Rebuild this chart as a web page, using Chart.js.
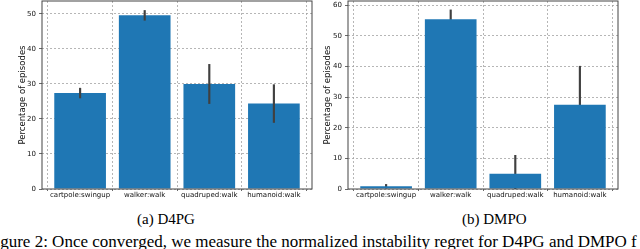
<!DOCTYPE html>
<html>
<head>
<meta charset="utf-8">
<script src="https://cdn.jsdelivr.net/npm/chart.js@4.4.0/dist/chart.umd.min.js"></script>
<style>
  html, body { margin: 0; padding: 0; background: #fff; }
  body { width: 640px; height: 249px; position: relative; overflow: hidden; }
  .panel { position: absolute; top: 0; width: 320px; height: 202px; }
  .cap { position: absolute; font-family: "Liberation Serif", "Times New Roman", serif; font-size: 15px; line-height: 15px; white-space: nowrap; color: #000; }
  .figcap { font-size: 17px; line-height: 17px; }
</style>
</head>
<body>
<div class="panel" style="left:0"><canvas id="d4pg"></canvas></div>
<div class="panel" style="left:320px"><canvas id="dmpo"></canvas></div>
<div class="cap" style="top:212px; left:137px">(a) D4PG</div>
<div class="cap" style="top:212px; left:462px">(b) DMPO</div>
<div class="cap figcap" style="top:233px; left:-14px">Figure 2: Once converged, we measure the normalized instability regret for D4PG and DMPO f</div>
<script>
// Data
const taskNames = ['cartpole:swingup', 'walker:walk', 'quadruped:walk', 'humanoid:walk']
const d4pgMean = [27.4, 49.6, 30.0, 24.4]
const d4pgErr = [1.4, 1.4, 5.6, 5.4]
const dmpoMean = [0.9, 55.4, 5.0, 27.5]
const dmpoErr = [0.6, 3.1, 6.0, 12.6]
const d4pgTicks = [0, 10, 20, 30, 40, 50]
const dmpoTicks = [0, 10, 20, 30, 40, 50, 60]

// box round the plot area, like matplotlib spines
const framePlugin = {
    id: 'frame',
    afterDatasetsDraw(chart) {
        const { ctx, chartArea: a } = chart
        ctx.save()
        ctx.strokeStyle = '#444'
        ctx.lineWidth = 1
        ctx.strokeRect(a.left, a.top, a.right - a.left, a.bottom - a.top)
        ctx.restore()
    }
}

function makeChart(id, means, errs, yMax, yTicks, yWidth, titlePad, padRight, errOnTop) {
    const gridStyle = { color: '#a4a4a4', lineWidth: 0.8, drawTicks: true, tickColor: '#444', tickWidth: 0.8, borderDash: [2, 2] }
    return new Chart(document.getElementById(id).getContext('2d'), {
        type: 'bar',
        data: {
            datasets: [
                {
                    data: means.map((v, i) => ({ x: i, y: [v - errs[i], v + errs[i]] })),
                    backgroundColor: '#404040',
                    barThickness: 1.5,
                    grouped: false,
                    order: errOnTop ? 0 : 2
                },
                {
                    data: means.map((v, i) => ({ x: i, y: v })),
                    backgroundColor: '#1f77b4',
                    categoryPercentage: 0.8,
                    barPercentage: 1,
                    grouped: false,
                    order: 1
                }
            ]
        },
        options: {
            responsive: true,
            maintainAspectRatio: false,
            animation: false,
            layout: { padding: { top: 1, right: padRight, left: 0, bottom: 1 } },
            plugins: { legend: { display: false }, tooltip: { enabled: false } },
            scales: {
                x: {
                    type: 'linear',
                    min: -0.59,
                    max: 3.59,
                    offset: false,
                    afterBuildTicks: s => { s.ticks = taskNames.map((_, i) => ({ value: i })) },
                    afterFit: s => { s.height = 12; s.paddingLeft = 0; s.paddingRight = 0 },
                    ticks: {
                        callback: v => taskNames[v],
                        font: { family: 'DejaVu Sans', size: 7, lineHeight: 1 },
                        color: '#111',
                        padding: 1,
                        maxRotation: 0,
                        autoSkip: false
                    },
                    grid: Object.assign({ tickLength: 2 }, gridStyle),
                    border: { display: false, dash: [2, 2] }
                },
                y: {
                    min: 0,
                    max: yMax,
                    afterBuildTicks: s => { s.ticks = yTicks.map(v => ({ value: v })) },
                    afterFit: s => { s.width = yWidth; s.paddingTop = 0; s.paddingBottom = 0 },
                    ticks: {
                        font: { family: 'DejaVu Sans', size: 7, lineHeight: 1 },
                        color: '#111',
                        padding: 3
                    },
                    grid: Object.assign({ tickLength: 3 }, gridStyle),
                    border: { display: false, dash: [2, 2] },
                    title: {
                        display: true,
                        text: 'Percentage of episodes',
                        font: { family: 'DejaVu Sans', size: 8.5 },
                        color: '#111',
                        padding: { top: titlePad, bottom: 0 }
                    }
                }
            }
        },
        plugins: [framePlugin]
    })
}

makeChart('d4pg', d4pgMean, d4pgErr, 53.7, d4pgTicks, 42, 17.6, 8, true)
makeChart('dmpo', dmpoMean, dmpoErr, 61.4, dmpoTicks, 28, 3, 22, false)
</script>
</body>
</html>
